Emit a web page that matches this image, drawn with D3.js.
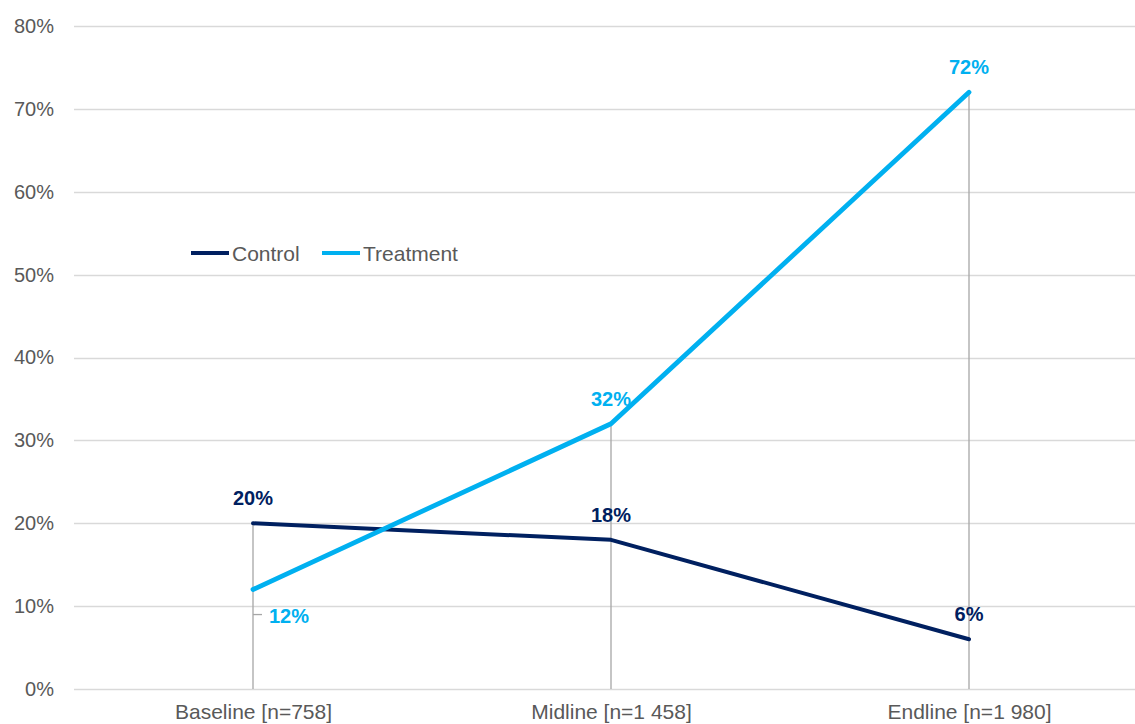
<!DOCTYPE html>
<html>
<head>
<meta charset="utf-8">
<script src="https://cdn.jsdelivr.net/npm/d3@7"></script>
<style>
  html, body { margin: 0; padding: 0; background: #fff; }
  svg { display: block; font-family: "Liberation Sans", Arial, sans-serif; }
</style>
</head>
<body>
<svg id="chart" width="1135" height="724"></svg>
<script>
const categories = ["Baseline [n=758]", "Midline [n=1 458]", "Endline [n=1 980]"];
const controlValues = [20, 18, 6];
const treatmentValues = [12, 32, 72];
const yTicks = [0, 10, 20, 30, 40, 50, 60, 70, 80];
const seriesNames = ["Control", "Treatment"];

const colors = { Control: "#002060", Treatment: "#00B0F0" };

const svg = d3.select("#chart");
const W = 1135, H = 724;

const x = d3.scalePoint().domain(categories).range([253, 969]);
const y = d3.scaleLinear().domain([0, 80]).range([689, 26]);

// horizontal gridlines
svg.append("g")
  .selectAll("line")
  .data(yTicks)
  .join("line")
  .attr("x1", 74).attr("x2", W)
  .attr("y1", d => Math.round(y(d)) + 0.5).attr("y2", d => Math.round(y(d)) + 0.5)
  .attr("stroke", "#d9d9d9").attr("stroke-width", 1.3);

// y axis labels
const yAxis = d3.axisLeft(y).tickValues(yTicks).tickFormat(d => d + "%").tickSize(0).tickPadding(0);
const yg = svg.append("g").attr("transform", "translate(54,0)").call(yAxis);
yg.select(".domain").remove();
yg.selectAll("text").attr("fill", "#595959").style("font-size", "20px").attr("font-family", "Liberation Sans, Arial, sans-serif");

// x axis labels
const xAxis = d3.axisBottom(x).tickSize(0).tickPadding(0);
const xg = svg.append("g").attr("transform", "translate(0,704)").call(xAxis);
xg.select(".domain").remove();
xg.selectAll("text").attr("fill", "#595959").style("font-size", "21px").attr("font-family", "Liberation Sans, Arial, sans-serif");

// drop lines from the highest point of each category
const maxVals = categories.map((c, i) => Math.max(controlValues[i], treatmentValues[i]));
svg.append("g")
  .selectAll("line")
  .data(categories)
  .join("line")
  .attr("x1", d => x(d)).attr("x2", d => x(d))
  .attr("y1", (d, i) => y(maxVals[i])).attr("y2", y(0))
  .attr("stroke", "#a6a6a6").attr("stroke-width", 1.3);

const line = d3.line().x((d, i) => x(categories[i])).y(d => y(d));

svg.append("path").datum(controlValues)
  .attr("d", line).attr("fill", "none")
  .attr("stroke", colors.Control).attr("stroke-width", 4).attr("stroke-linejoin", "round").attr("stroke-linecap", "round");

svg.append("path").datum(treatmentValues)
  .attr("d", line).attr("fill", "none")
  .attr("stroke", colors.Treatment).attr("stroke-width", 4.8).attr("stroke-linejoin", "round").attr("stroke-linecap", "round");

// value labels
const labelStyle = sel => sel.attr("font-weight", "bold").style("font-size", "20px").attr("text-anchor", "middle");

const ctrlOffsets = [[0, -18], [0, -18], [0, -18]];
svg.append("g").selectAll("text").data(controlValues).join("text")
  .call(labelStyle)
  .attr("fill", colors.Control)
  .attr("x", (d, i) => x(categories[i]) + ctrlOffsets[i][0])
  .attr("y", (d, i) => y(d) + ctrlOffsets[i][1])
  .text(d => d + "%");

const treatOffsets = [[36, 33], [0, -18], [0, -18]];
svg.append("g").selectAll("text").data(treatmentValues).join("text")
  .call(labelStyle)
  .attr("fill", colors.Treatment)
  .attr("x", (d, i) => x(categories[i]) + treatOffsets[i][0])
  .attr("y", (d, i) => y(d) + treatOffsets[i][1])
  .text(d => d + "%");

// leader line for the baseline treatment label
svg.append("line")
  .attr("x1", x(categories[0])).attr("x2", x(categories[0]) + 9)
  .attr("y1", y(treatmentValues[0]) + 25).attr("y2", y(treatmentValues[0]) + 25)
  .attr("stroke", "#a6a6a6").attr("stroke-width", 1.3);

// legend
const legend = svg.append("g").attr("transform", "translate(191,253)");
const legendX = [0, 131];
seriesNames.forEach((name, i) => {
  const g = legend.append("g").attr("transform", `translate(${legendX[i]},0)`);
  g.append("line").attr("x1", 0).attr("x2", 38).attr("y1", 0).attr("y2", 0)
    .attr("stroke", colors[name]).attr("stroke-width", 4);
  g.append("text").attr("x", 41).attr("y", 7.5)
    .attr("fill", "#595959").style("font-size", "21px").text(name);
});
</script>
</body>
</html>
